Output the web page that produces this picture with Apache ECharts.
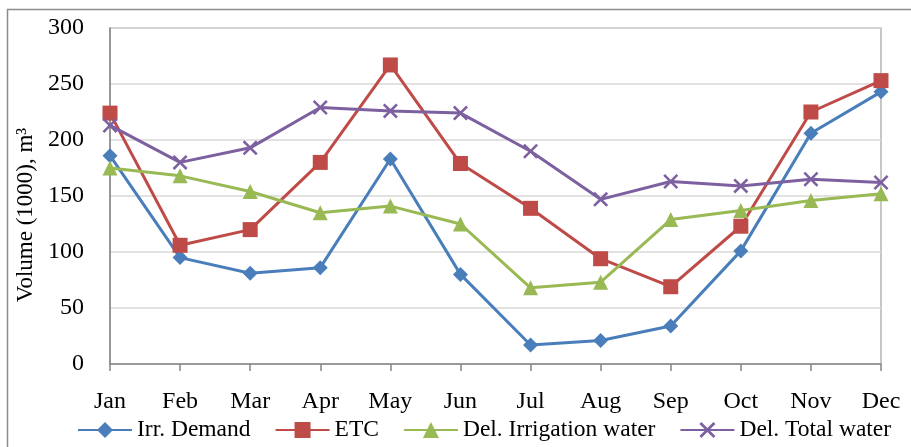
<!DOCTYPE html>
<html><head><meta charset="utf-8">
<script src="https://cdn.jsdelivr.net/npm/echarts@6/dist/echarts.min.js"></script>
<style>html,body{margin:0;padding:0;background:#fff}#c{width:911px;height:447px}</style>
</head><body><div id="c"></div>
<script>
const months = ['Jan','Feb','Mar','Apr','May','Jun','Jul','Aug','Sep','Oct','Nov','Dec'];
const irrDemand = [186, 95, 81, 86, 183, 80, 17, 21, 34, 101, 206, 243];
const etc = [224, 106, 120, 180, 267, 179, 139, 94, 69, 123, 225, 253];
const delIrrigation = [175, 168, 154, 135, 141, 125, 68, 73, 129, 137, 146, 152];
const delTotal = [213, 180, 193, 229, 226, 224, 190, 147, 163, 159, 165, 162];
const yTicks = [0, 50, 100, 150, 200, 250, 300];

const font = '"Liberation Serif", "Times New Roman", serif';
const xShape = 'path://M0,1.2L1.2,0L5,3.8L8.8,0L10,1.2L6.2,5L10,8.8L8.8,10L5,6.2L1.2,10L0,8.8L3.8,5Z';

function mk(name, data, color, symbol, size) {
  return {
    name, type: 'line', data, symbol, symbolSize: size,
    lineStyle: { color, width: 3 },
    itemStyle: { color },
    emphasis: { disabled: true },
    animation: false
  };
}

const chart = echarts.init(document.getElementById('c'), null, { renderer: 'canvas' });
chart.setOption({
  animation: false,
  textStyle: { fontFamily: font },
  graphic: [{
    type: 'rect', shape: { x: 7.5, y: 9.5, width: 1000, height: 1000 },
    style: { fill: 'none', stroke: '#8c8c8c', lineWidth: 1.5 }, silent: true, z: -10
  }],
  grid: { left: 110, right: 30, top: 28, bottom: 83, show: true, borderColor: '#b5b5b5', borderWidth: 1.5, backgroundColor: 'transparent' },
  legend: {
    left: 77, top: 418, padding: 0, itemWidth: 54, itemHeight: 20, itemGap: 24,
    textStyle: { fontFamily: font, fontSize: 23.5, color: '#000' },
    data: ['Irr. Demand', 'ETC', 'Del. Irrigation water', 'Del. Total water']
  },
  xAxis: {
    type: 'category', data: months, boundaryGap: false,
    axisLine: { lineStyle: { color: '#868686', width: 1.5 } },
    axisTick: { show: true, length: 7, lineStyle: { color: '#868686', width: 1.5 } },
    axisLabel: { color: '#000', fontSize: 24, fontFamily: font, margin: 26 },
    splitLine: { show: false }
  },
  yAxis: {
    type: 'value', min: yTicks[0], max: yTicks[yTicks.length - 1], interval: 50,
    name: 'Volume (1000), m³', nameLocation: 'middle', nameGap: 66,
    nameTextStyle: { color: '#000', fontSize: 23, fontFamily: font, padding: [0, 38, 0, 0] },
    axisLine: { show: true, lineStyle: { color: '#868686', width: 1.5 } },
    axisTick: { show: false },
    axisLabel: { color: '#000', fontSize: 24, fontFamily: font, margin: 26 },
    splitLine: { lineStyle: { color: '#d9d9d9', width: 1.5 } }
  },
  series: [
    mk('Irr. Demand', irrDemand, '#4A7EBB', 'diamond', 15),
    mk('ETC', etc, '#BE4B48', 'rect', 15),
    mk('Del. Irrigation water', delIrrigation, '#98B954', 'triangle', 15),
    mk('Del. Total water', delTotal, '#7D60A0', xShape, 15)
  ]
});
</script></body></html>
